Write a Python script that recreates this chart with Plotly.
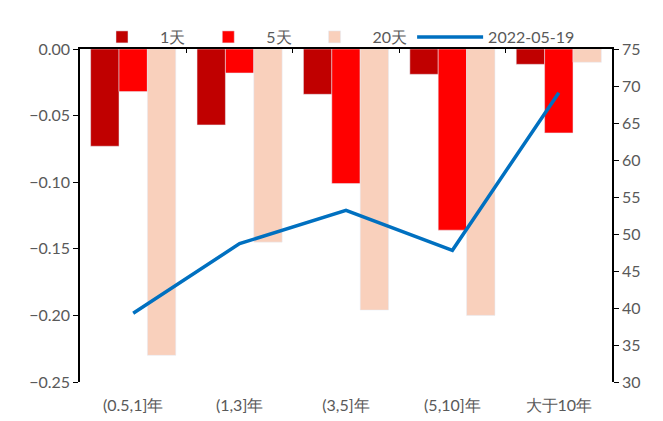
import plotly.graph_objects as go

categories = ["(0.5,1]年", "(1,3]年", "(3,5]年", "(5,10]年", "大于10年"]
chg_1d = [-0.073, -0.057, -0.034, -0.019, -0.0115]
chg_5d = [-0.032, -0.018, -0.101, -0.136, -0.063]
chg_20d = [-0.230, -0.145, -0.196, -0.200, -0.010]
level_0519 = [39.3, 48.7, 53.2, 47.8, 69.1]

FONT = "Lato, 'Open Sans', sans-serif"
GREY = "#595959"

fig = go.Figure()
fig.add_trace(go.Bar(x=categories, y=chg_1d, name="1天", marker=dict(color="#C00000")))
fig.add_trace(go.Bar(x=categories, y=chg_5d, name="5天", marker=dict(color="#FF0000")))
fig.add_trace(go.Bar(x=categories, y=chg_20d, name="20天", marker=dict(color="#F9D0BC")))
fig.add_trace(go.Scatter(x=categories, y=level_0519, name="2022-05-19", mode="lines",
                         line=dict(color="#0070C0", width=3.5), xaxis="x2", yaxis="y2"))

fig.update_layout(
    width=655, height=413,
    margin=dict(l=72, r=51, t=41, b=39, autoexpand=False),
    paper_bgcolor="white", plot_bgcolor="white",
    font=dict(family=FONT, size=16, color=GREY),
    barmode="group", bargap=0.2, bargroupgap=0,
    showlegend=True,
    legend=dict(orientation="h", x=0.0075, xanchor="left", y=1.036, yanchor="middle",
                font=dict(family=FONT, size=16, color=GREY), itemwidth=66,
                traceorder="normal", bgcolor="rgba(0,0,0,0)"),
    xaxis=dict(type="category", range=[-0.5, 4.5], showline=False, ticks="",
               showgrid=False, automargin=False,
               tickfont=dict(size=16, color=GREY), ticklabelstandoff=12),
    xaxis2=dict(type="category", range=[-0.5, 4.5], overlaying="x", side="top", anchor="y",
                showline=True, linecolor="black", linewidth=1.5, ticks="inside",
                tickson="boundaries", ticklen=4, tickcolor="black", showticklabels=False,
                showgrid=False, automargin=False),
    yaxis=dict(range=[-0.25, 0], dtick=0.05, tickformat=".2f", showgrid=False,
               zeroline=False, showline=True, linecolor="black", linewidth=1.5,
               ticks="outside", ticklen=5, tickcolor="black", automargin=False,
               tickfont=dict(size=16, color=GREY)),
    yaxis2=dict(range=[30, 75], dtick=5, overlaying="y", side="right", anchor="x",
                showgrid=False, zeroline=False, showline=True, linecolor="black",
                linewidth=1.5, ticks="outside", ticklen=5, tickcolor="black",
                automargin=False, tickfont=dict(size=16, color=GREY)),
)

fig.write_html("out.html")
